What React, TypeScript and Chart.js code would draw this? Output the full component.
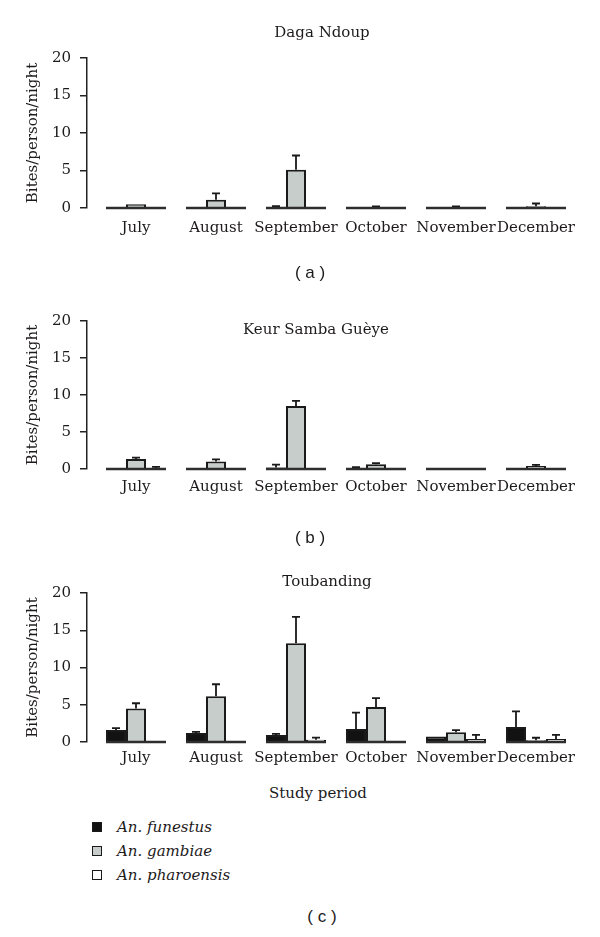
import React, { useEffect, useRef } from "react";
import { Chart, registerables } from "chart.js";

Chart.register(...registerables);

// ---------- data ----------
const months = ["July", "August", "September", "October", "November", "December"];
const speciesNames = ["An. funestus", "An. gambiae", "An. pharoensis"];
const yTickValues = [0, 5, 10, 15, 20];
const panelTitles = ["Daga Ndoup", "Keur Samba Guèye", "Toubanding"];
const panelCaptions = ["( a )", "( b )", "( c )"];
const xAxisTitle = "Study period";
const yAxisTitle = "Bites/person/night";

// Daga Ndoup (mean, SE)
const dagaFunestus = [0, 0, 0.15, 0, 0, 0];
const dagaFunestusErr = [0, 0, 0.1, 0, 0, 0];
const dagaGambiae = [0.5, 1.1, 5.1, 0.08, 0.08, 0.25];
const dagaGambiaeErr = [0, 0.85, 1.9, 0.12, 0.12, 0.35];
const dagaPharoensis = [0, 0, 0, 0, 0, 0];
const dagaPharoensisErr = [0, 0, 0, 0, 0, 0];

// Keur Samba Guèye (mean, SE)
const keurFunestus = [0, 0, 0.2, 0.1, 0, 0];
const keurFunestusErr = [0, 0, 0.4, 0.15, 0, 0];
const keurGambiae = [1.35, 1.0, 8.5, 0.65, 0, 0.4];
const keurGambiaeErr = [0.2, 0.3, 0.7, 0.15, 0, 0.15];
const keurPharoensis = [0.1, 0, 0, 0, 0, 0];
const keurPharoensisErr = [0.2, 0, 0, 0, 0, 0];

// Toubanding (mean, SE)
const toubFunestus = [1.6, 1.2, 0.95, 1.75, 0.75, 2.0];
const toubFunestusErr = [0.25, 0.15, 0.15, 2.2, 0, 2.1];
const toubGambiae = [4.5, 6.15, 13.25, 4.7, 1.3, 0.22];
const toubGambiaeErr = [0.7, 1.6, 3.55, 1.2, 0.3, 0.35];
const toubPharoensis = [0, 0, 0.3, 0, 0.4, 0.4];
const toubPharoensisErr = [0, 0, 0.3, 0, 0.55, 0.55];

// ---------- styles ----------
const FONT = "'DejaVu Serif', serif";
const TEXT = "#1d1a1b";
const COLORS = ["#121212", "#c6cdcb", "#ffffff"];
const BORDER = "#1a1a1a";
const CAT_PCT = 0.75;
const AXIS_GAP = 9;

type PanelSpec = {
  top: number;
  height: number;
  padTop: number;
  xHeight: number;
  xPad: number;
  values: number[][];
  errors: number[][];
};

const panels: PanelSpec[] = [
  {
    top: 0, height: 250, padTop: 58, xHeight: 42, xPad: 11,
    values: [dagaFunestus, dagaGambiae, dagaPharoensis],
    errors: [dagaFunestusErr, dagaGambiaeErr, dagaPharoensisErr],
  },
  {
    top: 260, height: 250, padTop: 61, xHeight: 41, xPad: 9,
    values: [keurFunestus, keurGambiae, keurPharoensis],
    errors: [keurFunestusErr, keurGambiaeErr, keurPharoensisErr],
  },
  {
    top: 530, height: 250, padTop: 63, xHeight: 38, xPad: 7,
    values: [toubFunestus, toubGambiae, toubPharoensis],
    errors: [toubFunestusErr, toubGambiaeErr, toubPharoensisErr],
  },
];

function makeExtras(errors: number[][]) {
  return {
    id: "extras",
    afterLayout(chart: any) {
      const x = chart.scales.x;
      x.left = chart.chartArea.left + AXIS_GAP;
      x.configure();
    },
    afterDatasetsDraw(chart: any) {
      const { ctx } = chart;
      const x = chart.scales.x;
      const y = chart.scales.y;
      ctx.save();
      // error bars (upper only)
      chart.data.datasets.forEach((ds: any, di: number) => {
        const meta = chart.getDatasetMeta(di);
        meta.data.forEach((bar: any, i: number) => {
          const e = errors[di][i];
          if (!e) return;
          const v = ds.data[i];
          const base = y.getPixelForValue(v);
          const top = y.getPixelForValue(v + e);
          ctx.strokeStyle = BORDER;
          ctx.lineWidth = 1.8;
          ctx.beginPath();
          ctx.moveTo(bar.x, base);
          ctx.lineTo(bar.x, top);
          ctx.moveTo(bar.x - 4, top);
          ctx.lineTo(bar.x + 4, top);
          ctx.stroke();
        });
      });
      // baseline segments per category
      const band = (x.getPixelForValue(1) - x.getPixelForValue(0)) * CAT_PCT;
      const y0 = y.getPixelForValue(0);
      ctx.strokeStyle = "#2e2e2e";
      ctx.lineWidth = 2.4;
      months.forEach((_, i) => {
        const cx = x.getPixelForValue(i);
        ctx.beginPath();
        ctx.moveTo(cx - band / 2, y0);
        ctx.lineTo(cx + band / 2, y0);
        ctx.stroke();
      });
      ctx.restore();
    },
  };
}

function Panel({ spec }: { spec: PanelSpec }) {
  const ref = useRef<HTMLCanvasElement | null>(null);
  useEffect(() => {
    if (!ref.current) return;
    const chart = new Chart(ref.current, {
      type: "bar",
      data: {
        labels: months,
        datasets: speciesNames.map((name, si) => ({
          label: name,
          data: spec.values[si],
          backgroundColor: COLORS[si],
          borderColor: BORDER,
          borderWidth: 2,
          categoryPercentage: CAT_PCT,
          barPercentage: 1,
        })),
      },
      options: {
        responsive: false,
        maintainAspectRatio: false,
        animation: false,
        devicePixelRatio: 1,
        layout: { padding: { top: spec.padTop, right: 24, bottom: 0, left: 0 } },
        plugins: {
          legend: { display: false },
          title: { display: false },
          tooltip: { enabled: false },
        },
        scales: {
          x: {
            grid: { display: false, drawTicks: false },
            border: { display: false },
            ticks: {
              color: TEXT,
              font: { family: FONT, size: 15 },
              padding: spec.xPad,
              autoSkip: false,
              maxRotation: 0,
            },
            afterFit: (s: any) => {
              s.height = spec.xHeight;
            },
          },
          y: {
            min: 0,
            max: 20,
            afterBuildTicks: (s: any) => {
              s.ticks = yTickValues.map((v) => ({ value: v }));
            },
            ticks: {
              color: TEXT,
              font: { family: FONT, size: 15 },
              padding: 9,
            },
            grid: {
              drawOnChartArea: false,
              drawTicks: true,
              tickLength: 7,
              color: "#222222",
              lineWidth: 1.5,
            },
            border: { display: true, color: "#222222", width: 1.5 },
            title: {
              display: true,
              text: yAxisTitle,
              color: TEXT,
              font: { family: FONT, size: 15 },
              padding: { top: 24, bottom: 0 },
            },
            afterFit: (s: any) => {
              s.width = 87;
            },
          },
        },
      },
      plugins: [makeExtras(spec.errors)],
    } as any);
    return () => chart.destroy();
  }, [spec]);
  return (
    <canvas
      ref={ref}
      width={600}
      height={spec.height}
      style={{ position: "absolute", left: 0, top: spec.top, width: 600, height: spec.height, display: "block" }}
    />
  );
}

function Text({ x, y, children, style }: { x: number; y: number; children: React.ReactNode; style?: React.CSSProperties }) {
  return (
    <div
      style={{
        position: "absolute",
        left: x,
        top: y,
        transform: "translate(-50%, -50%)",
        whiteSpace: "nowrap",
        lineHeight: 1,
        color: TEXT,
        fontFamily: FONT,
        fontSize: 15,
        ...style,
      }}
    >
      {children}
    </div>
  );
}

const titlePos = [
  { x: 322, y: 32 },
  { x: 316, y: 329 },
  { x: 327, y: 581 },
];
const captionPos = [
  { x: 310, y: 272 },
  { x: 310, y: 537 },
  { x: 322, y: 916 },
];
const legendY = [827, 851, 875];

export default function App() {
  return (
    <div style={{ position: "absolute", left: 0, top: 0, width: 600, height: 937, background: "#ffffff", overflow: "hidden" }}>
      {panels.map((p, i) => (
        <Panel key={i} spec={p} />
      ))}
      {panelTitles.map((t, i) => (
        <Text key={"t" + i} x={titlePos[i].x} y={titlePos[i].y}>
          {t}
        </Text>
      ))}
      {panelCaptions.map((c, i) => (
        <Text key={"c" + i} x={captionPos[i].x} y={captionPos[i].y} style={{ fontFamily: "'Liberation Sans', Arial, sans-serif", fontSize: 17 }}>
          {c}
        </Text>
      ))}
      <Text x={318} y={793}>
        {xAxisTitle}
      </Text>
      {speciesNames.map((n, i) => (
        <React.Fragment key={"l" + i}>
          <div
            style={{
              position: "absolute",
              left: 92,
              top: legendY[i] - 5,
              width: 10,
              height: 10,
              boxSizing: "border-box",
              border: "1px solid " + BORDER,
              background: COLORS[i],
            }}
          />
          <div
            style={{
              position: "absolute",
              left: 117,
              top: legendY[i],
              transform: "translateY(-50%)",
              whiteSpace: "nowrap",
              lineHeight: 1,
              color: TEXT,
              fontFamily: FONT,
              fontStyle: "italic",
              fontSize: 15,
            }}
          >
            {n}
          </div>
        </React.Fragment>
      ))}
    </div>
  );
}
